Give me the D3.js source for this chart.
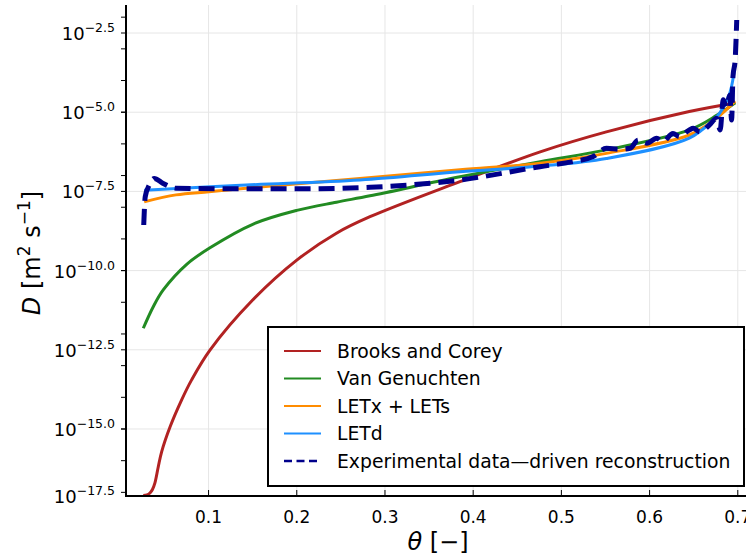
<!DOCTYPE html>
<html>
<head>
<meta charset="utf-8">
<script src="https://cdn.jsdelivr.net/npm/d3@7"></script>
<style>
  body { margin: 0; background: #fff; }
  svg text { font-family: "DejaVu Sans", sans-serif; fill: #000; }
</style>
</head>
<body>
<svg id="chart"></svg>
<script>
// theta [-] and log10(D)
const bcTheta = [0.026, 0.0302, 0.0336, 0.0364, 0.0392, 0.043, 0.0468, 0.0564, 0.0695, 0.0808, 0.1016, 0.150, 0.200, 0.245, 0.283, 0.385, 0.476, 0.551, 0.645, 0.697];
const bcLogD = [-17.10, -17.08, -17.02, -16.91, -16.70, -16.19, -15.72, -14.93, -14.08, -13.45, -12.51, -10.93, -9.67, -8.82, -8.30, -7.19, -6.25, -5.62, -4.98, -4.71];

const vgTheta = [0.026, 0.0373, 0.0486, 0.0752, 0.1016, 0.1507, 0.200, 0.245, 0.283, 0.385, 0.476, 0.551, 0.645, 0.676, 0.697];
const vgLogD = [-11.82, -11.14, -10.61, -9.80, -9.28, -8.53, -8.10, -7.84, -7.64, -7.04, -6.56, -6.19, -5.56, -5.10, -4.70];

const letxTheta = [0.027, 0.063, 0.1005, 0.1424, 0.2716, 0.385, 0.476, 0.551, 0.645, 0.676, 0.697];
const letxLogD = [-7.83, -7.61, -7.51, -7.40, -7.09, -6.82, -6.61, -6.30, -5.72, -5.18, -4.65];

const letdTheta = [0.027, 0.1424, 0.2716, 0.385, 0.476, 0.551, 0.645, 0.672, 0.6795, 0.691, 0.697];
const letdLogD = [-7.46, -7.30, -7.14, -6.88, -6.70, -6.46, -5.82, -5.25, -5.03, -4.39, -3.45];

const expTheta = [0.0265, 0.0282, 0.0328, 0.0384, 0.048, 0.063, 0.142, 0.2036, 0.283, 0.385, 0.4757, 0.513, 0.536, 0.551, 0.5665, 0.578, 0.587, 0.597, 0.608, 0.615, 0.6265, 0.634, 0.645, 0.6495, 0.657, 0.668, 0.676, 0.680, 0.6835, 0.687, 0.691, 0.693, 0.6945, 0.697, 0.6988];
const expLogD = [-8.56, -7.67, -7.30, -7.09, -7.24, -7.40, -7.42, -7.42, -7.37, -7.14, -6.72, -6.56, -6.40, -6.14, -6.17, -6.14, -5.88, -5.98, -5.82, -5.93, -5.67, -5.77, -5.56, -5.51, -5.62, -5.40, -5.19, -5.56, -4.61, -4.83, -4.46, -5.25, -3.88, -3.35, -2.09];

const xTicks = [0.1, 0.2, 0.3, 0.4, 0.5, 0.6, 0.7];
const yTicks = [-2.5, -5.0, -7.5, -10.0, -12.5, -15.0, -17.5];
const yMinor = d3.range(-2, -18, -1);

const seriesNames = ['Brooks and Corey', 'Van Genuchten', 'LETx + LETs', 'LETd', 'Experimental data\u2014driven reconstruction'];
const seriesColors = ['#b22222', '#228b22', '#ff8c00', '#1e90ff', '#00008b'];

const W = 746, H = 557;
const pL = 126, pR = 746, pT = 5, pB = 496;

const svg = d3.select('#chart').attr('width', W).attr('height', H);

const x = d3.scaleLinear().domain([0.0064, 0.7093]).range([pL, pR]);
const y = d3.scaleLinear().domain([-17.115, -1.616]).range([pB, pT]);
const yPos = v => y(Math.max(v, y.domain()[0]));

// grid
svg.append('g').selectAll('line').data(xTicks).join('line')
  .attr('x1', d => x(d)).attr('x2', d => x(d))
  .attr('y1', pT).attr('y2', pB)
  .attr('stroke', '#e6e6e6').attr('stroke-width', 1);
svg.append('g').selectAll('line').data(yTicks.slice(0, -1)).join('line')
  .attr('x1', pL).attr('x2', pR)
  .attr('y1', d => y(d)).attr('y2', d => y(d))
  .attr('stroke', '#e6e6e6').attr('stroke-width', 1);

svg.append('clipPath').attr('id', 'clip').append('rect')
  .attr('x', pL).attr('y', pT - 2).attr('width', pR - pL).attr('height', pB - pT + 2);

const smooth = d3.line().x(d => x(d[0])).y(d => y(d[1])).curve(d3.curveCatmullRom.alpha(0.5));
const wiggly = d3.line().x(d => x(d[0])).y(d => y(d[1])).curve(d3.curveMonotoneX);
const series = [
  d3.zip(bcTheta, bcLogD),
  d3.zip(vgTheta, vgLogD),
  d3.zip(letxTheta, letxLogD),
  d3.zip(letdTheta, letdLogD),
  d3.zip(expTheta, expLogD)
];

const plot = svg.append('g').attr('clip-path', 'url(#clip)');
series.forEach((s, i) => {
  const dashed = i === 4;
  plot.append('path').datum(s)
    .attr('d', dashed ? wiggly : smooth)
    .attr('fill', 'none')
    .attr('stroke', seriesColors[i])
    .attr('stroke-width', dashed ? 5 : 3)
    .attr('stroke-dasharray', dashed ? '16,8' : null)
    .attr('stroke-linejoin', 'round');
});

// axes
svg.append('line').attr('x1', pL).attr('x2', pL).attr('y1', pT).attr('y2', pB + 1)
  .attr('stroke', '#000').attr('stroke-width', 2);
svg.append('line').attr('x1', pL - 1).attr('x2', pR).attr('y1', pB).attr('y2', pB)
  .attr('stroke', '#000').attr('stroke-width', 2);

svg.append('g').selectAll('line').data(xTicks).join('line')
  .attr('x1', d => x(d)).attr('x2', d => x(d))
  .attr('y1', pB).attr('y2', pB - 6)
  .attr('stroke', '#000').attr('stroke-width', 1);
svg.append('g').selectAll('text').data(xTicks).join('text')
  .attr('x', d => x(d)).attr('y', pB + 27)
  .attr('text-anchor', 'middle').attr('font-size', 17)
  .text(d => d.toFixed(1));

svg.append('g').selectAll('line').data(yMinor.concat(yTicks.slice(0, -1))).join('line')
  .attr('x1', pL - 5).attr('x2', pL)
  .attr('y1', d => y(d)).attr('y2', d => y(d))
  .attr('stroke', '#000').attr('stroke-width', 1);

const yLab = svg.append('g').selectAll('text').data(yTicks).join('text')
  .attr('x', 115).attr('y', d => yPos(d) + 7)
  .attr('text-anchor', 'end').attr('font-size', 18);
yLab.append('tspan').text('10');
yLab.append('tspan').attr('font-size', 12.5).attr('dy', -8)
  .text(d => '\u2212' + Math.abs(d).toFixed(1));

// axis titles
const xt = svg.append('text').attr('x', 438).attr('y', 550)
  .attr('text-anchor', 'middle').attr('font-size', 24);
xt.append('tspan').attr('font-style', 'italic').text('\u03b8');
xt.append('tspan').text(' [\u2212]');

const yt = svg.append('text').attr('transform', 'translate(40,253) rotate(-90)')
  .attr('text-anchor', 'middle').attr('font-size', 24);
yt.append('tspan').attr('font-style', 'italic').text('D');
yt.append('tspan').text(' [m');
yt.append('tspan').attr('font-size', 17).attr('dy', -10).text('2');
yt.append('tspan').attr('dy', 10).text(' s');
yt.append('tspan').attr('font-size', 17).attr('dy', -10).text('\u22121');
yt.append('tspan').attr('dy', 10).text(']');

// legend
const lg = svg.append('g');
lg.append('rect').attr('x', 268).attr('y', 327).attr('width', 476).attr('height', 159)
  .attr('fill', '#fff').attr('stroke', '#000').attr('stroke-width', 2);
seriesNames.forEach((name, i) => {
  const ly = 351 + i * 27.5;
  lg.append('line').attr('x1', 284).attr('x2', 321).attr('y1', ly).attr('y2', ly)
    .attr('stroke', seriesColors[i]).attr('stroke-width', i === 4 ? 2.5 : 2)
    .attr('stroke-dasharray', i === 4 ? '8,4.5' : null);
  lg.append('text').attr('x', 337).attr('y', ly + 6.5).attr('font-size', 18.8).text(name);
});
</script>
</body>
</html>
